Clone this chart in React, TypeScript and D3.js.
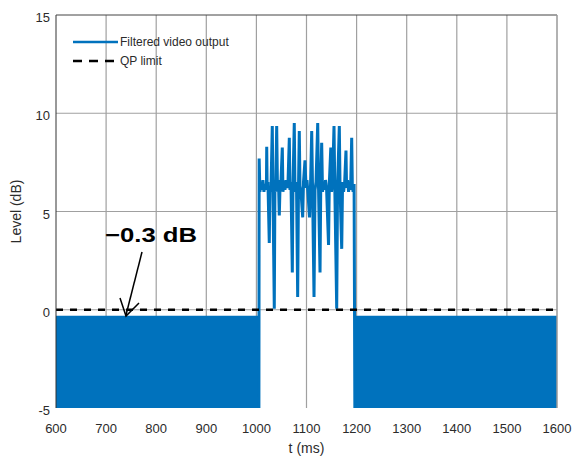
import React from 'react'
import * as d3 from 'd3'

// axis ticks
const xTicks = [600, 700, 800, 900, 1000, 1100, 1200, 1300, 1400, 1500, 1600]
const yTicks = [-5, 0, 5, 10, 15]

// the dense oscillating parts read as a filled band (envelope)
const bandStart = [600, 1197]
const bandEnd = [1007, 1600]
const bandLow = [-5, -5]
const bandHigh = [-0.3, -0.3]

// burst between ~1005 and ~1197 ms
const burstT = [
  1005, 1005.5, 1007, 1009, 1011, 1013, 1015, 1017, 1020, 1020.6, 1021.5, 1023, 1025.7, 1027, 1029,
  1031.7, 1033, 1035.7, 1037, 1038.5, 1040.5, 1042, 1044, 1045.7, 1047, 1049, 1051.7, 1053, 1055,
  1057, 1059, 1061, 1063, 1065.7, 1067, 1069, 1071.7, 1073, 1075.6, 1077, 1080, 1082.4, 1084,
  1085.6, 1087, 1089, 1092.4, 1094, 1097, 1099, 1101, 1103, 1106, 1108, 1110.4, 1112, 1115, 1117,
  1119, 1122.4, 1124, 1127, 1128.5, 1130.3, 1132, 1134, 1136, 1138, 1140, 1144, 1145.5, 1148.5,
  1150, 1152, 1154.9, 1156.5, 1160.3, 1162, 1165.5, 1167, 1170.3, 1172, 1174, 1176, 1178.8, 1180,
  1182, 1184, 1186, 1188, 1190.2, 1191.5, 1193, 1195, 1196.5,
]
const burstLevel = [
  -5, 7.7, 6.0, 6.5, 6.1, 6.6, 6.0, 6.4, 6.2, 8.3, 6.1, 6.5, 3.4, 6.3, 6.0,
  9.35, 6.2, 0.05, 6.4, 6.0, 9.35, 6.3, 6.6, 4.8, 6.1, 6.5, 8.25, 6.0, 6.5,
  6.1, 6.6, 6.2, 6.4, 8.75, 6.1, 6.5, 1.9, 6.3, 9.5, 6.0, 6.5, 0.65, 6.2,
  9.1, 6.3, 6.0, 4.7, 6.5, 7.6, 6.2, 6.6, 5.9, 4.7, 6.3, 9.1, 6.3, 0.65, 6.1,
  6.5, 9.5, 6.2, 1.9, 6.4, 8.5, 6.0, 6.5, 6.1, 6.6, 6.2, 3.3, 6.4, 8.25,
  6.0, 6.5, 9.35, 6.2, 0.05, 6.3, 9.35, 6.1, 3.1, 6.5, 6.0, 6.4, 8.1, 6.2,
  6.6, 6.0, 6.5, 6.1, 8.75, 6.3, 6.0, 6.4, -5,
]

const qpLimit = 0
const annotation = '\u22120.3 dB'

const W = 574
const H = 459
const margin = {top: 15, right: 17, bottom: 51, left: 56}

const BLUE = '#0072BD'
const TXT = '#2b2b2b'
const GRID = '#a0a0a0'

const App = () => {
  const x = d3.scaleLinear().domain([600, 1600]).range([margin.left, W - margin.right])
  const y = d3.scaleLinear().domain([-5, 15]).range([H - margin.bottom, margin.top])

  const bands = bandStart.map((s, i) => {
    const pts: [number, number, number][] = [
      [s, bandLow[i], bandHigh[i]],
      [bandEnd[i], bandLow[i], bandHigh[i]],
    ]
    return d3.area<[number, number, number]>()
      .x(d => x(d[0]))
      .y0(d => y(d[1]))
      .y1(d => y(d[2]))(pts)
  })

  const burst = d3.line<number>()
    .x((d, i) => x(burstT[i]))
    .y(d => y(d))(burstLevel)

  const qp = d3.line<number>()
    .x(d => x(d))
    .y(() => y(qpLimit))([600, 1600])

  const font = 'Arial, "Liberation Sans", sans-serif'

  return (
    <svg width={W} height={H} style={{position: 'absolute', left: 0, top: 0}} fontFamily={font}>
      <rect width={W} height={H} fill="#fff" />
      {/* grid */}
      {xTicks.slice(1, -1).map(t => (
        <line key={'gx' + t} x1={x(t)} x2={x(t)} y1={y(15)} y2={y(-5)} stroke={GRID} strokeWidth={1.2} />
      ))}
      {yTicks.slice(1, -1).map(t => (
        <line key={'gy' + t} x1={x(600)} x2={x(1600)} y1={y(t)} y2={y(t)} stroke={GRID} strokeWidth={1.2} />
      ))}

      {/* data */}
      {bands.map((d, i) => <path key={'b' + i} d={d ?? ''} fill={BLUE} />)}
      <path d={burst ?? ''} fill="none" stroke={BLUE} strokeWidth={3} strokeLinejoin="miter" strokeMiterlimit={2} />
      <path d={qp ?? ''} stroke="#000" strokeWidth={2.6} strokeDasharray="7,7" fill="none" />

      {/* box */}
      <line x1={x(600)} x2={x(600)} y1={y(15)} y2={y(-5)} stroke="#333" strokeWidth={1} />
      <line x1={x(600)} x2={x(1600)} y1={y(15)} y2={y(15)} stroke="#444" strokeWidth={1} />
      <line x1={x(1600)} x2={x(1600)} y1={y(15)} y2={y(-5)} stroke="#999" strokeWidth={1.5} />

      {/* tick labels */}
      {yTicks.map(t => (
        <text key={'ty' + t} x={margin.left - 6} y={y(t) + 7} textAnchor="end" fontSize={13} fill={TXT}>
          {t}
        </text>
      ))}
      {xTicks.map(t => (
        <text key={'tx' + t} x={x(t)} y={433} textAnchor="middle" fontSize={13} fill={TXT}>
          {t}
        </text>
      ))}
      <text x={(x(600) + x(1600)) / 2} y={453} textAnchor="middle" fontSize={14} fill={TXT}>t (ms)</text>
      <text transform={`translate(21,${y(5)}) rotate(-90)`} textAnchor="middle" fontSize={14} fill={TXT}>Level (dB)</text>

      {/* legend */}
      <line x1={73} x2={118} y1={42} y2={42} stroke={BLUE} strokeWidth={2.6} />
      <text x={120} y={46} fontSize={12} fill={TXT}>Filtered video output</text>
      <line x1={73} x2={118} y1={61} y2={61} stroke="#000" strokeWidth={2.6} strokeDasharray="9,7" />
      <text x={120} y={65} fontSize={12} fill={TXT}>QP limit</text>

      {/* annotation */}
      <text x={105} y={242} fontSize={20} fontWeight="bold" fill="#000" textLength={92} lengthAdjust="spacingAndGlyphs">
        {annotation}
      </text>
      <line x1={142} y1={252} x2={126} y2={315} stroke="#000" strokeWidth={1.5} />
      <polyline points="120,298 126,316 139,303" fill="none" stroke="#000" strokeWidth={1.5} />
    </svg>
  )
}

export default App
